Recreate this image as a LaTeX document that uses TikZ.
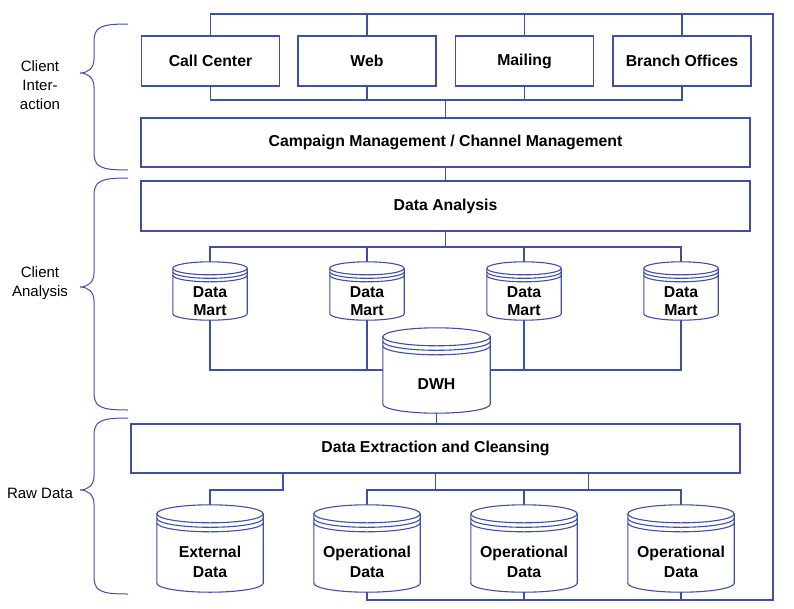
\documentclass[tikz,border=0pt]{standalone}
\usepackage{fontspec}
\setmainfont{Liberation Sans}
\usetikzlibrary{calc}
\definecolor{linec}{RGB}{64,80,160}
\pgfdeclarelayer{bg}
\pgfdeclarelayer{cyl}
\pgfsetlayers{bg,cyl,main}
\tikzset{
  wire/.style={draw=linec, line width=1.1pt},
  box/.style={draw=linec, line width=1.1pt, fill=white, inner sep=0pt, minimum height=50pt,
    font=\fontsize{15.8}{18}\selectfont\bfseries},
  chanbox/.style={box, minimum width=138pt},
  widebox/.style={box, minimum width=609pt, minimum height=49pt},
  dbtext/.style={inner sep=0pt, align=center, font=\fontsize{15.8}{18.5}\selectfont\bfseries},
  martdb/.style={dbtext, minimum width=74pt, minimum height=38pt},
  dwhdb/.style={dbtext, minimum width=107pt, minimum height=58pt},
  srcdb/.style={dbtext, minimum width=106pt, minimum height=60pt, font=\fontsize{15.8}{19.5}\selectfont\bfseries},
  brace/.style={draw=linec, line width=1pt},
  sidelbl/.style={align=center, font=\fontsize{15}{19}\selectfont}
}
\begin{document}
\begin{tikzpicture}[x=1pt,y=-1pt]
  \useasboundingbox (0,0) rectangle (794,608);
  % client interaction
  \node[chanbox] (cc) at (210.5,61) {Call Center};
  \node[chanbox] (web) at (367,61) {Web};
  \node[chanbox] (mail) at (524.5,61) {Mailing};
  \node[chanbox] (branch) at (682,61) {Branch Offices};
  \node[widebox] (campaign) at (445.5,142.5) {Campaign Management / Channel Management};
  % client analysis
  \node[widebox, minimum height=50pt] (analysis) at (445.5,206) {Data Analysis};
  \node[martdb] (dm1) at (210,301) {Data\\Mart};
  \node[martdb] (dm2) at (367,301) {Data\\Mart};
  \node[martdb] (dm3) at (524,301) {Data\\Mart};
  \node[martdb] (dm4) at (681,301) {Data\\Mart};
  \node[dwhdb] (dwh) at (436.5,384) {DWH};
  % raw data
  \node[widebox] (extract) at (435.5,448.5) {Data Extraction and Cleansing};
  \node[srcdb] (ext) at (210,562) {External\\Data};
  \node[srcdb] (op1) at (367,562) {Operational\\Data};
  \node[srcdb] (op2) at (524,562) {Operational\\Data};
  \node[srcdb] (op3) at (681,562) {Operational\\Data};

  \begin{pgfonlayer}{cyl}
    \foreach \db/\ry/\gap in {dm1/6.5pt/3.5pt,dm2/6.5pt/3.5pt,dm3/6.5pt/3.5pt,dm4/6.5pt/3.5pt,
        dwh/9pt/4.5pt,ext/9pt/4.5pt,op1/9pt/4.5pt,op2/9pt/4.5pt,op3/9pt/4.5pt}{
      \draw[wire,fill=white] let \p1=(\db.north west), \p2=(\db.south east) in
        (\x1,{\y1+2*\gap+\ry}) -- (\x1,{\y2+\ry})
        arc[start angle=180,end angle=360,x radius={(\x2-\x1)/2},y radius=\ry]
        -- (\x2,{\y1+2*\gap+\ry});
      \draw[wire,fill=white] let \p1=(\db.north west), \p2=(\db.north east) in
        ({(\x1+\x2)/2},{\y1+2*\gap+\ry}) ellipse[x radius={(\x2-\x1)/2},y radius=\ry];
      \draw[wire] let \p1=(\db.north west), \p2=(\db.north east) in
        (\x1,{\y1+\gap+\ry}) arc[start angle=180,end angle=360,x radius={(\x2-\x1)/2},y radius=\ry]
        (\x1,{\y1+\ry}) arc[start angle=180,end angle=360,x radius={(\x2-\x1)/2},y radius=\ry];
    }
  \end{pgfonlayer}

  \begin{pgfonlayer}{bg}
    \coordinate (topright) at (773,14);
    \coordinate (botright) at (773,600);
    \draw[wire] (cc.north) |- (topright) -- (botright) -| (op1.south);
    \foreach \ch in {web,mail,branch} \draw[wire] (\ch.north) -- (\ch.north |- topright);
    \coordinate (chbus) at (445.5,100);
    \draw[wire] (cc.south) |- (chbus) -| (branch.south);
    \foreach \ch in {web,mail} \draw[wire] (\ch.south) -- (\ch.south |- chbus);
    \draw[wire] (chbus) -- (campaign.north);
    \draw[wire] (campaign.south) -- (analysis.north);
    \coordinate (dmbus) at (445.5,247);
    \draw[wire] (analysis.south) -- (dmbus);
    \draw[wire] (dm1.north) |- (dmbus) -| (dm4.north);
    \foreach \dm in {dm2,dm3} \draw[wire] (\dm.north) -- (\dm.north |- dmbus);
    \coordinate (martbus) at (436.5,370);
    \draw[wire] (dm1.south) |- (martbus) -| (dm4.south);
    \foreach \dm in {dm2,dm3} \draw[wire] (\dm.south) -- (\dm.south |- martbus);
    \draw[wire] (dwh.south) -- (dwh.south |- extract.north);
    \coordinate (srcbus) at (524,490);
    \draw[wire] ([xshift=-152.5pt]extract.south) |- (srcbus -| ext.north) -- (ext.north);
    \draw[wire] (op1.north) |- (srcbus) -| (op3.north);
    \draw[wire] (op2.north) -- (op2.north |- srcbus);
    \draw[wire] (extract.south) -- (extract.south |- srcbus);
    \draw[wire] ([xshift=153pt]extract.south) -- ([xshift=153pt]extract.south |- srcbus);
    \foreach \op in {op2,op3} \draw[wire] (\op.south) -- (\op.south |- botright);
  \end{pgfonlayer}

  % braces and layer labels
  \foreach \t/\m/\b in {24/73/170,178/287/410,418/490/594}
    \draw[brace] (128,\t) .. controls (100,\t) and (94,{\t+3}) .. (94,{\t+18})
      -- (94,{\m-14}) .. controls (94,{\m-5}) and (88,\m) .. (80,\m)
      .. controls (88,\m) and (94,{\m+5}) .. (94,{\m+14})
      -- (94,{\b-18}) .. controls (94,{\b-3}) and (100,\b) .. (128,\b);
  \node[sidelbl] (lblint) at (40,85) {Client\\Inter-\\action};
  \node[sidelbl] (lblana) at (40,283) {Client\\Analysis};
  \node[sidelbl] (lblraw) at (40,493) {Raw Data};
\end{tikzpicture}
\end{document}
